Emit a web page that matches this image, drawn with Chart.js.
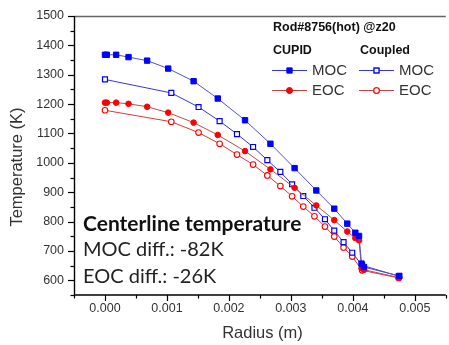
<!DOCTYPE html>
<html>
<head>
<meta charset="utf-8">
<script src="https://cdn.jsdelivr.net/npm/chart.js@4.4.1/dist/chart.umd.min.js"></script>
<style>
  html, body { margin: 0; padding: 0; background: #fff; overflow: hidden; }
  #wrap { width: 449px; height: 345px; overflow: hidden; }
  canvas { display: block; }
</style>
</head>
<body>
<div id="wrap"><canvas id="tempChart" width="451" height="345"></canvas></div>
<script>
// radius nodes (m)
const cupidRadius = [0, 0.00003, 0.00018, 0.00038, 0.00068, 0.00102, 0.00143, 0.00182, 0.00226, 0.00267,
  0.00306, 0.00341, 0.00370, 0.00391, 0.00404, 0.00410, 0.00414, 0.00418, 0.00475];
const coupledRadius = [0, 0.00107, 0.00151, 0.00185, 0.00213, 0.00239, 0.00262, 0.00283, 0.00302, 0.00320,
  0.00338, 0.00355, 0.00370, 0.00385, 0.00399, 0.00415, 0.00474];

// temperatures (K)
const cupidMOC = [1368, 1368, 1368, 1360, 1348, 1321, 1278, 1219, 1145, 1065, 982, 906, 844, 793, 762, 751, 657, 645, 615];
const cupidEOC = [1205, 1205, 1205, 1201, 1191, 1171, 1137, 1095, 1040, 978, 915, 855, 805, 766, 744, 736, 641, 636, 609];
const coupledMOC = [1284, 1238, 1190, 1142, 1098, 1054, 1009, 969, 927, 887, 847, 808, 769, 730, 694, 651, 614];
const coupledEOC = [1179, 1140, 1103, 1065, 1028, 994, 957, 921, 886, 851, 818, 783, 749, 712, 681, 634, 608];

const xTicks = [0, 0.001, 0.002, 0.003, 0.004, 0.005];
const yTicks = [600, 700, 800, 900, 1000, 1100, 1200, 1300, 1400, 1500];

const legendTitle = 'Rod#8756(hot) @z20';
const groupNames = ['CUPID', 'Coupled'];
const stateNames = ['MOC', 'EOC'];
const noteLines = ['Centerline temperature', 'MOC diff.: -82K', 'EOC diff.: -26K'];

function pts(xs, ys) {
  return xs.map((x, i) => ({ x: x, y: ys[i] }));
}

const BLUE = '#0000ff';
const RED = '#ff0000';

const datasets = [
  { label: 'CUPID MOC', data: pts(cupidRadius, cupidMOC), borderColor: '#5252c8', pointStyle: 'rect',
    pointRadius: 3.8, pointBackgroundColor: BLUE, pointBorderColor: BLUE },
  { label: 'CUPID EOC', data: pts(cupidRadius, cupidEOC), borderColor: '#b94c4c', pointStyle: 'circle',
    pointRadius: 2.8, pointBackgroundColor: RED, pointBorderColor: RED },
  { label: 'Coupled MOC', data: pts(coupledRadius, coupledMOC), borderColor: '#3636dc', pointStyle: 'rect',
    pointRadius: 3.5, pointBackgroundColor: '#fff', pointBorderColor: BLUE, pointBorderWidth: 1.2 },
  { label: 'Coupled EOC', data: pts(coupledRadius, coupledEOC), borderColor: '#d83a3a', pointStyle: 'circle',
    pointRadius: 2.8, pointBackgroundColor: '#fff', pointBorderColor: RED, pointBorderWidth: 1.1 }
];
datasets.forEach(d => { d.showLine = true; d.borderWidth = 1; d.fill = false; });

const TICK_FONT = '12.5px "Liberation Sans", Arial, sans-serif';

// axes, ticks, titles, legend and note, all placed via the scales
const decorPlugin = {
  id: 'decor',
  afterDraw(chart) {
    const ctx = chart.ctx;
    const xs = chart.scales.x, ys = chart.scales.y;
    const area = chart.chartArea;
    ctx.save();

    // frame: top line grey, left/bottom black
    ctx.strokeStyle = '#666';
    ctx.lineWidth = 1.4;
    ctx.beginPath();
    ctx.moveTo(area.left, area.top + 0.5);
    ctx.lineTo(area.right, area.top + 0.5);
    ctx.stroke();
    ctx.strokeStyle = '#000';
    ctx.beginPath();
    ctx.moveTo(area.left + 0.5, area.top);
    ctx.lineTo(area.left + 0.5, area.bottom);
    ctx.lineTo(area.right, area.bottom);
    ctx.stroke();

    // x ticks, major every 0.001, minor every 0.0005
    ctx.lineWidth = 1.2;
    for (let k = -1; k <= 11; k++) {
      const v = k * 0.0005;
      const px = Math.round(xs.getPixelForValue(v)) + 0.5;
      const len = k % 2 === 0 ? 6 : 3.5;
      ctx.beginPath();
      ctx.moveTo(px, area.bottom);
      ctx.lineTo(px, area.bottom + len);
      ctx.stroke();
    }
    // y ticks, major every 100, minor every 50
    for (let v = 550; v <= 1500; v += 50) {
      const py = Math.round(ys.getPixelForValue(v)) + 0.5;
      const len = v % 100 === 0 ? 6 : 3.5;
      ctx.beginPath();
      ctx.moveTo(area.left, py);
      ctx.lineTo(area.left - len, py);
      ctx.stroke();
    }

    // tick labels
    ctx.fillStyle = '#333';
    ctx.font = TICK_FONT;
    ctx.textAlign = 'center';
    ctx.textBaseline = 'middle';
    xTicks.forEach(v => ctx.fillText(v.toFixed(3), xs.getPixelForValue(v), area.bottom + 14));
    ctx.textAlign = 'right';
    yTicks.forEach(v => ctx.fillText(String(v), area.left - 10, ys.getPixelForValue(v)));

    // axis titles
    ctx.font = '16.5px "Liberation Sans", Arial, sans-serif';
    ctx.textAlign = 'center';
    ctx.fillText('Radius (m)', (area.left + 451) / 2, 333);
    ctx.save();
    ctx.translate(17, 167);
    ctx.rotate(-Math.PI / 2);
    ctx.fillText('Temperature (K)', 0, 0);
    ctx.restore();

    // legend
    ctx.fillStyle = '#111';
    ctx.textAlign = 'left';
    ctx.font = 'bold 12.5px "Liberation Sans", Arial, sans-serif';
    ctx.fillText(legendTitle, 273, 28);
    ctx.fillText(groupNames[0], 273, 51);
    ctx.fillText(groupNames[1], 360, 51);
    const rows = [70, 90];
    const cols = [272, 359];
    const legendSets = [[0, 2], [1, 3]];
    rows.forEach((ry, r) => {
      cols.forEach((cx, c) => {
        const ds = datasets[legendSets[r][c]];
        ctx.strokeStyle = r === 0 ? '#3a3ac8' : '#c44444';
        ctx.lineWidth = 1.1;
        ctx.beginPath();
        ctx.moveTo(cx, ry + 0.5);
        ctx.lineTo(cx + 35, ry + 0.5);
        ctx.stroke();
        Chart.helpers.drawPoint(ctx, {
          pointStyle: ds.pointStyle,
          radius: ds.pointStyle === 'rect' ? 3.5 : 2.8,
          borderWidth: ds.pointBorderWidth || 1
        }, cx + 17.5, ry + 0.5);
        ctx.fillStyle = ds.pointBackgroundColor;
        ctx.strokeStyle = ds.pointBorderColor;
        ctx.lineWidth = ds.pointBorderWidth || 1;
        ctx.fill();
        ctx.stroke();
        ctx.fillStyle = '#333';
        ctx.font = '15px "Liberation Sans", Arial, sans-serif';
        ctx.fillText(stateNames[r], cx + 40, ry + 1);
      });
    });

    // note
    ctx.fillStyle = '#111';
    ctx.font = 'bold 21px Lato, "Open Sans", sans-serif';
    ctx.fillText(noteLines[0], 83, 224);
    ctx.font = '20px Lato, "Open Sans", sans-serif';
    ctx.fillStyle = '#222';
    ctx.fillText(noteLines[1], 83, 250);
    ctx.fillText(noteLines[2], 83, 277);

    ctx.restore();
  }
};

new Chart(document.getElementById('tempChart'), {
  type: 'scatter',
  data: { datasets: datasets },
  options: {
    responsive: false,
    animation: false,
    layout: { padding: { top: 16, right: 0, left: 0, bottom: 0 } },
    plugins: { legend: { display: false }, tooltip: { enabled: false } },
    scales: {
      x: {
        type: 'linear', min: -0.0005, max: 0.0055,
        grid: { display: false }, border: { display: false },
        ticks: { display: false },
        afterFit(scale) { scale.height = 50; }
      },
      y: {
        type: 'linear', min: 550, max: 1500,
        grid: { display: false }, border: { display: false },
        ticks: { display: false },
        afterFit(scale) { scale.width = 74; }
      }
    }
  },
  plugins: [decorPlugin]
});
</script>
</body>
</html>
